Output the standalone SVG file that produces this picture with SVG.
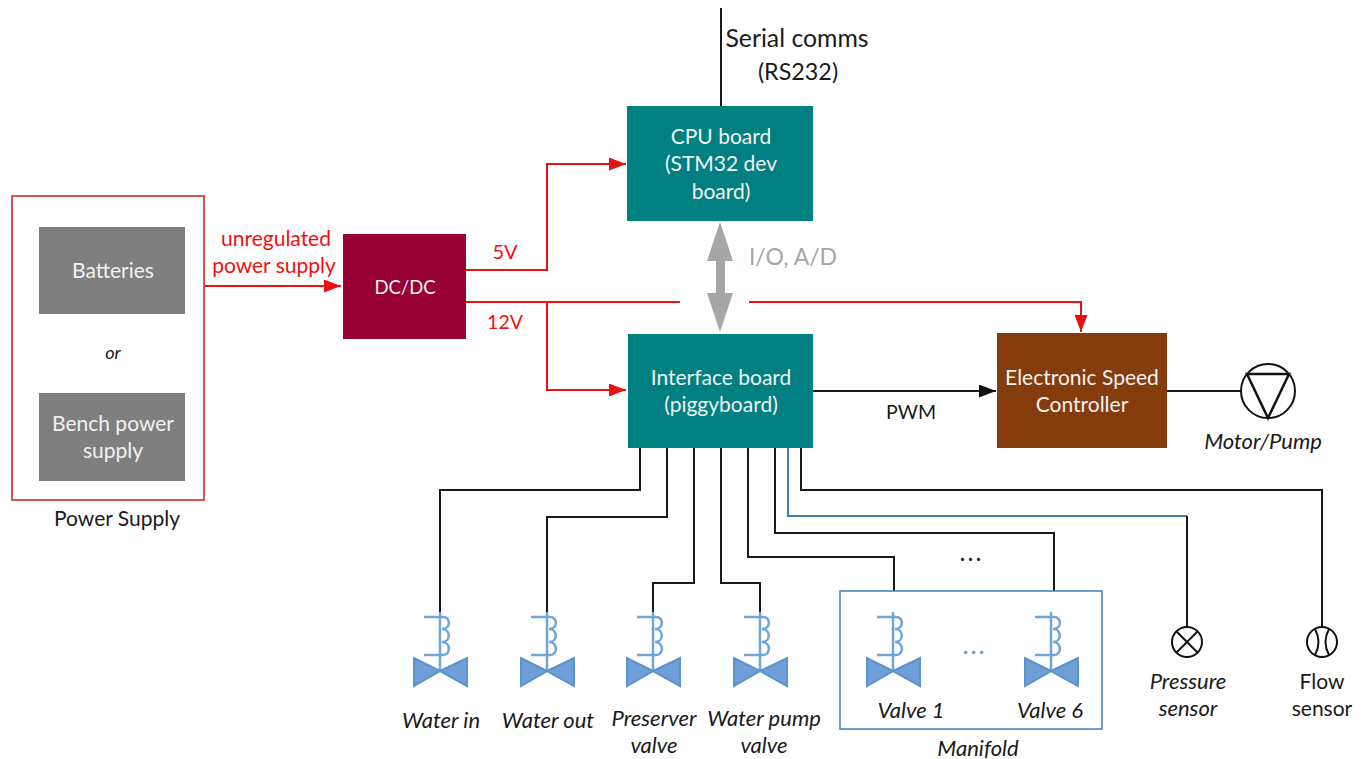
<svg xmlns="http://www.w3.org/2000/svg" xmlns:xlink="http://www.w3.org/1999/xlink" width="1366" height="759" viewBox="0 0 1366 759">
<style>
text{font-family:"Lato","Open Sans","Liberation Sans",sans-serif;font-size:21px;text-anchor:middle;fill:#1a1a1a}
.w{fill:#f2f2f2}
.i{font-style:italic;font-size:22px}
.r{fill:#f01010}
.g{fill:#a6a6a6}
.box{stroke:none}
.k{fill:none;stroke:#1a1a1a;stroke-width:2}
.red{fill:none;stroke:#e81010;stroke-width:2}
.valve-line{fill:none;stroke:#6fa5d8;stroke-width:2.5}
.valve-body{fill:#6f9fd8;stroke:#5b93c9;stroke-width:2}
</style>
<defs>
<marker id="ra" markerUnits="userSpaceOnUse" markerWidth="17" markerHeight="13" refX="17" refY="6.5" orient="auto"><path d="M0 0L17 6.5L0 13Z" fill="#e81010"/></marker>
<marker id="ka" markerUnits="userSpaceOnUse" markerWidth="17" markerHeight="13" refX="17" refY="6.5" orient="auto"><path d="M0 0L17 6.5L0 13Z" fill="#111"/></marker>
<g id="valve">
<path class="valve-line" d="M0-59V0"/>
<path class="valve-line" d="M-16-54H3C11-54 11-42 2-42C11-42 11-29 2-29C11-29 11-16 3-16H-16"/>
<path class="valve-body" d="M0 0L-26-13V15ZM0 0L27-13V15Z"/>
</g>
</defs>
<g id="connectors">
<path class="red" marker-end="url(#ra)" d="M205 286H341"/>
<path class="red" marker-end="url(#ra)" d="M466 270H547V164H626"/>
<path class="red" d="M466 302H680"/>
<path class="red" marker-end="url(#ra)" d="M749 302H1081V332"/>
<path class="red" marker-end="url(#ra)" d="M547 302V390H626"/>
<path class="k" marker-end="url(#ka)" d="M813 391H996"/>
<path class="k" d="M1167 391H1241"/>
<path class="k" d="M721 106V8"/>
<path class="k" d="M640 448V490H440V612"/>
<path class="k" d="M667 448V517H547V612"/>
<path class="k" d="M694 448V583H653V612"/>
<path class="k" d="M721 448V583H760V612"/>
<path class="k" d="M748 448V557H894V591"/>
<path class="k" d="M775 448V533H1054V591"/>
<path fill="none" stroke="#3f7fb8" stroke-width="2" d="M788 448V516H1187"/>
<path class="k" d="M1187 516V627"/>
<path class="k" d="M801 448V490H1322V627"/>
<path fill="#a6a6a6" d="M720 222L733 261H725V293H733L720 332L707 293H716V261H707Z"/>
</g>
<g id="power-supply">
<rect x="12" y="196" width="192" height="304" fill="#fff" stroke="#d01818" stroke-width="1.5"/>
<text x="117" y="526">Power Supply</text>
<text x="113" y="359" class="i" style="font-size:18px">or</text>
</g>
<g id="batteries"><rect class="box" x="39" y="227" width="146" height="87" fill="#7f7f7f"/><text class="w" x="113" y="278">Batteries</text></g>
<g id="bench"><rect class="box" x="39" y="393" width="146" height="88" fill="#7f7f7f"/><text class="w" x="113" y="431">Bench power</text><text class="w" x="113" y="458">supply</text></g>
<g id="dcdc"><rect class="box" x="343" y="234" width="123" height="105" fill="#990033"/><text class="w" x="405" y="294" style="font-size:18.5px">DC/DC</text></g>
<g id="cpu"><rect class="box" x="627" y="106" width="186" height="115" fill="#008080"/><text class="w" x="721" y="144">CPU board</text><text class="w" x="721" y="171">(STM32 dev</text><text class="w" x="721" y="199">board)</text></g>
<g id="interface"><rect class="box" x="628" y="334" width="185" height="114" fill="#008080"/><text class="w" x="721" y="385">Interface board</text><text class="w" x="721" y="412">(piggyboard)</text></g>
<g id="esc"><rect class="box" x="997" y="333" width="170" height="115" fill="#843c0c"/><text class="w" x="1082" y="385">Electronic Speed</text><text class="w" x="1082" y="412">Controller</text></g>
<g id="labels">
<text class="r" x="276" y="246">unregulated</text>
<text class="r" x="274" y="273">power supply</text>
<text class="r" x="505" y="259" style="font-size:20px">5V</text>
<text class="r" x="505" y="329" style="font-size:19.5px">12V</text>
<text class="g" x="793" y="265" style="font-size:23px">I/O, A/D</text>
<text x="911" y="419" style="font-size:19.5px">PWM</text>
<text x="797" y="47" style="font-size:24.8px">Serial comms</text>
<text x="798" y="80" style="font-size:23.3px">(RS232)</text>
<text x="972" y="561" style="font-weight:bold;letter-spacing:3px">...</text>
</g>
<g id="pump"><circle cx="1268" cy="391" r="27" fill="#fff" stroke="#111" stroke-width="2"/><path d="M1247 374H1289L1268 418Z" fill="none" stroke="#111" stroke-width="2.5"/><text class="i" x="1263" y="449">Motor/Pump</text></g>
<g id="water-in"><use xlink:href="#valve" href="#valve" x="440" y="671"/><text class="i" x="441" y="728">Water in</text></g>
<g id="water-out"><use xlink:href="#valve" href="#valve" x="547" y="671"/><text class="i" x="548" y="728">Water out</text></g>
<g id="preserver"><use xlink:href="#valve" href="#valve" x="653" y="671"/><text class="i" x="654" y="726">Preserver</text><text class="i" x="654" y="753">valve</text></g>
<g id="pump-valve"><use xlink:href="#valve" href="#valve" x="760" y="671"/><text class="i" x="764" y="726">Water pump</text><text class="i" x="764" y="753">valve</text></g>
<g id="manifold">
<rect x="840" y="591" width="262" height="138" fill="none" stroke="#3f7fb8" stroke-width="1.5"/>
<use xlink:href="#valve" href="#valve" x="893" y="671"/>
<use xlink:href="#valve" href="#valve" x="1051" y="671"/>
<text x="975" y="654" style="font-weight:bold;fill:#5b9bd5;letter-spacing:3px">...</text>
<text class="i" x="911" y="718">Valve 1</text>
<text class="i" x="1050" y="718">Valve 6</text>
<text class="i" x="978" y="756">Manifold</text>
</g>
<g id="pressure"><circle cx="1187" cy="642" r="15" fill="#fff" stroke="#111" stroke-width="2"/><path d="M1176 631L1198 653M1198 631L1176 653" stroke="#111" stroke-width="2"/><text class="i" x="1188" y="689">Pressure</text><text class="i" x="1188" y="716">sensor</text></g>
<g id="flow"><circle cx="1322" cy="642" r="15" fill="#fff" stroke="#111" stroke-width="2"/><path d="M1315 629Q1322 642 1315 655M1329 629Q1322 642 1329 655" fill="none" stroke="#111" stroke-width="2"/><text x="1322" y="689">Flow</text><text x="1322" y="716">sensor</text></g>
</svg>
